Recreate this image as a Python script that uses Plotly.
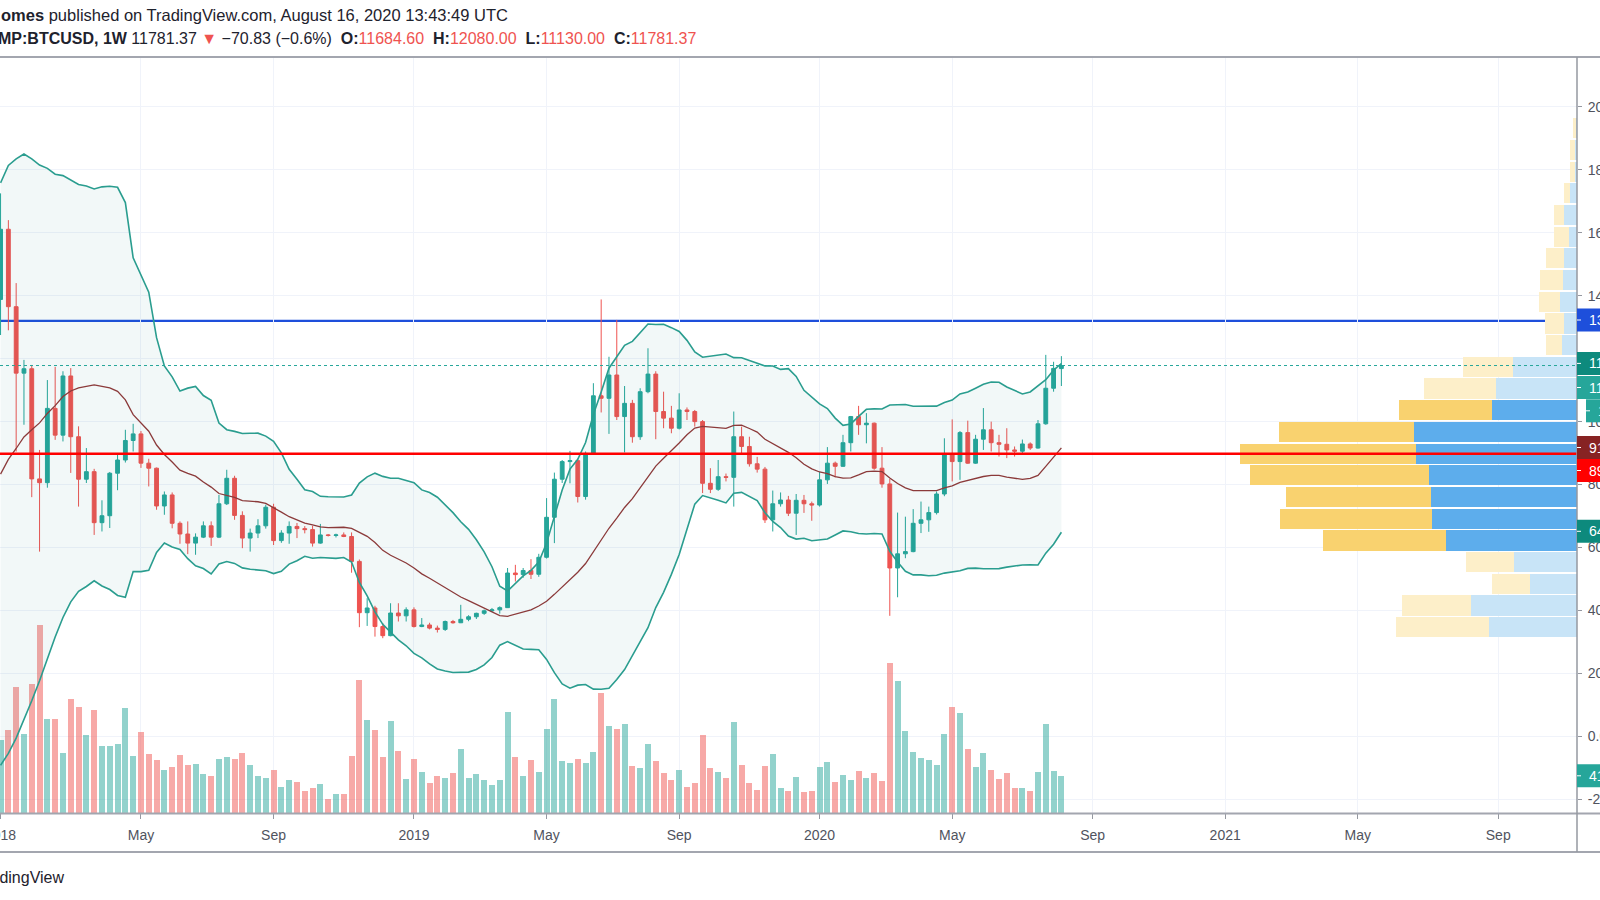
import numpy as np
import pandas as pd
import plotly.graph_objects as go

# ---------------- data ----------------
FIRST_WEEK = "2018-01-01"
N_WEEKS = 137

OPEN = [13880, 16110, 13650, 11540, 11680, 8180, 8060, 10420, 9570, 11450,
        9520, 8170, 8410, 6790, 7010, 8360, 8780, 9400, 9610, 8680,
        8520, 7320, 7670, 6770, 6430, 6140, 6330, 6690, 6330, 7390,
        8200, 7020, 6300, 6460, 6690, 7280, 6220, 6460, 6670, 6600,
        6570, 6140, 6400, 6385, 6400, 6350, 5560, 3930, 4080, 3490,
        3200, 3920, 3830, 4020, 3490, 3540, 3440, 3400, 3650, 3610,
        3720, 3800, 3910, 3990, 4020, 4090, 5190, 5140, 5270, 5150,
        5690, 6960, 8170, 8730, 8760, 7620, 8990, 10820, 10740, 11480,
        10160, 10580, 9520, 10950, 11510, 10320, 10110, 9790, 10370, 10320,
        10000, 8040, 7850, 8250, 8230, 9520, 9210, 8660, 8490, 6880,
        7390, 7510, 7090, 7500, 7390, 7350, 8150, 8680, 8580, 9330,
        10160, 9900, 9950, 8520, 8020, 5350, 5800, 5870, 6770, 6880,
        7110, 7700, 8940, 8730, 9650, 8680, 9440, 9740, 9330, 9280,
        9100, 9060, 9290, 9160, 9930, 11060, 11684.60]
HIGH = [17250, 16400, 14400, 11960, 11800, 9100, 11320, 11740, 11600, 11700,
        9850, 9160, 8500, 7500, 8400, 9000, 9740, 9930, 9700, 8820,
        8540, 7780, 7750, 6830, 6830, 6450, 6830, 6830, 7670, 8470,
        8280, 7150, 6600, 6900, 7360, 7390, 6550, 6830, 6780, 6680,
        6690, 6750, 6430, 6440, 6480, 6480, 5620, 4390, 4150, 3600,
        4230, 4230, 4100, 4100, 3760, 3610, 3520, 3680, 3700, 4180,
        3850, 3930, 4030, 4080, 4130, 5350, 5450, 5350, 5630, 5800,
        7570, 8380, 8780, 9070, 8800, 9050, 11220, 13880, 12060, 13230,
        11130, 10690, 11060, 12330, 11600, 10950, 10500, 10900, 10450, 10370,
        10050, 8520, 8780, 8350, 10320, 9840, 9520, 8880, 8560, 7810,
        7750, 7640, 7700, 7670, 7460, 8410, 9190, 8730, 9580, 10180,
        10500, 10270, 9970, 9190, 8180, 7110, 6980, 7220, 7460, 7300,
        7780, 9470, 10070, 9700, 10030, 9580, 10430, 10000, 9580, 9790,
        9210, 9430, 9340, 10050, 12120, 11900, 12080.00]
LOW = [12750, 12900, 9050, 9900, 7600, 5870, 7900, 9420, 9370, 8370,
       7300, 8050, 6400, 6510, 6620, 7820, 8700, 9050, 8530, 7940,
       7200, 7040, 6610, 6120, 5790, 5770, 6300, 6050, 6300, 7350,
       6880, 5980, 5870, 6300, 6600, 6080, 6150, 6120, 6300, 6450,
       6030, 6120, 6350, 6320, 6330, 5200, 3470, 3510, 3170, 3120,
       3180, 3650, 3650, 3460, 3470, 3400, 3300, 3350, 3580, 3600,
       3660, 3730, 3860, 3950, 3900, 4080, 4920, 5040, 5000, 5070,
       5650, 6140, 8050, 8040, 7430, 7520, 8950, 10290, 9610, 10050,
       9020, 9330, 9420, 10900, 9440, 9790, 9630, 9750, 10050, 9840,
       7730, 7730, 7800, 8100, 7300, 9000, 8570, 8380, 6780, 6510,
       7300, 7000, 6400, 7100, 6850, 7300, 8020, 8230, 8560, 9050,
       9580, 9310, 8470, 7900, 3830, 4420, 5660, 5850, 6460, 6500,
       7050, 7630, 8100, 8150, 8660, 8660, 9100, 9050, 8890, 8840,
       8890, 9000, 9100, 9140, 9900, 10950, 11130.00]
CLOSE = [16110, 13650, 11540, 11680, 8180, 8060, 10420, 9570, 11450, 9520,
         8170, 8410, 6790, 7010, 8360, 8780, 9400, 9610, 8680, 8520,
         7320, 7670, 6770, 6430, 6140, 6330, 6690, 6330, 7390, 8200,
         7020, 6300, 6460, 6690, 7280, 6220, 6460, 6670, 6600, 6570,
         6140, 6400, 6385, 6400, 6350, 5560, 3930, 4080, 3490, 3200,
         3920, 3830, 4020, 3490, 3540, 3440, 3400, 3650, 3610, 3720,
         3800, 3910, 3990, 4020, 4090, 5190, 5140, 5270, 5150, 5690,
         6960, 8170, 8730, 8760, 7620, 8990, 10820, 10740, 11480, 10160,
         10580, 9520, 10950, 11510, 10320, 10110, 9790, 10370, 10320, 10000,
         8040, 7850, 8250, 8230, 9520, 9210, 8660, 8490, 6880, 7390,
         7510, 7090, 7500, 7390, 7350, 8150, 8680, 8580, 9330, 10160,
         9900, 9950, 8520, 8020, 5350, 5800, 5870, 6770, 6880, 7110,
         7700, 8940, 8730, 9650, 8680, 9440, 9740, 9330, 9280, 9100,
         9060, 9290, 9160, 9930, 11060, 11690, 11781.37]
VOLUME_K = [81.5, 92.6, 140.2, 87.4, 143.2, 209.1, 104.5, 103.8, 66.6, 126.1,
            117.2, 86.3, 114.2, 74.8, 74.8, 76.3, 116.4, 63.2, 90.0, 65.8,
            59.1, 47.6, 51.3, 64.7, 53.6, 54.7, 42.8, 41.3, 59.9, 62.5,
            59.9, 66.6, 53.6, 41.3, 39.1, 47.6, 29.4, 36.5, 34.2, 24.9,
            27.9, 32.4, 16.0, 20.8, 21.6, 63.2, 147.7, 103.0, 92.6, 62.5,
            102.3, 68.4, 37.2, 59.9, 45.8, 33.5, 40.5, 39.1, 44.6, 70.7,
            39.1, 43.2, 36.8, 31.6, 36.5, 111.6, 62.5, 40.5, 58.8, 45.8,
            93.4, 126.1, 57.3, 55.8, 59.9, 55.8, 68.1, 132.8, 96.7, 93.0,
            98.2, 52.5, 49.5, 76.3, 57.3, 44.3, 36.8, 48.0, 29.0, 33.1,
            86.7, 49.5, 45.0, 38.3, 101.2, 53.6, 33.1, 25.7, 52.1, 65.5,
            27.5, 24.9, 39.8, 23.4, 24.9, 50.6, 56.5, 34.2, 42.4, 36.8,
            46.1, 38.3, 44.6, 35.7, 165.9, 146.9, 91.5, 68.1, 61.4, 58.8,
            52.8, 87.8, 117.9, 110.5, 71.4, 51.3, 66.6, 48.0, 37.6, 44.6,
            27.2, 27.9, 24.2, 45.4, 98.6, 46.1, 41.3]
# weekly closes Aug 21 - Dec 25 2017, only used to warm up the 20-week Bollinger Bands
PRIOR_CLOSES_2017 = [4350, 4580, 4320, 3680, 3670, 4400, 4600, 5700, 6000, 6150,
                     7400, 5900, 8000, 9300, 11000, 14800, 19000, 13900, 13800]
BB_LENGTH = 20
BB_MULT = 2.0

RESISTANCE_BLUE = 13200.00
SUPPORT_RED = 8980.00
EXTRA_LABEL = "10340.00"

# Volume profile (visible range): 24 rows
VP_LOW = 3122.0
VP_STEP = 689.3
VP_UP_K = [265, 318, 140, 190, 392, 436, 438, 445, 482, 488, 255, 242,
           193, 45, 40, 52, 42, 38, 25, 38, 20, 7, 5, 2]
VP_DOWN_K = [279, 206, 115, 142, 370, 454, 435, 537, 530, 407, 280, 216,
             149, 48, 55, 62, 70, 54, 43, 30, 20, 15, 15, 9]
VALUE_AREA_ROWS = (4, 10)

X_TICK_DATES = ["2018-01-01", "2018-05-07", "2018-09-03", "2019-01-07", "2019-05-06",
                "2019-09-02", "2020-01-06", "2020-05-04", "2020-09-07", "2021-01-04",
                "2021-05-03", "2021-09-06"]
X_TICK_TEXT = ["2018", "May", "Sep", "2019", "May", "Sep", "2020", "May", "Sep",
               "2021", "May", "Sep"]
Y_TICKS = list(range(-2000, 20001, 2000))

# ---------------- derived ----------------
dates = pd.date_range(FIRST_WEEK, periods=N_WEEKS, freq="7D")
all_close = pd.Series(PRIOR_CLOSES_2017 + CLOSE, dtype=float)
mid = all_close.rolling(BB_LENGTH).mean().iloc[-N_WEEKS:].to_numpy()
sd = all_close.rolling(BB_LENGTH).std(ddof=0).iloc[-N_WEEKS:].to_numpy()
upper = mid + BB_MULT * sd
lower = mid - BB_MULT * sd

UP_C = "#26A69A"
DN_C = "#EF5350"
vol_colors = ["rgba(38,166,154,0.5)" if c >= o else "rgba(239,83,80,0.5)"
              for o, c in zip(OPEN, CLOSE)]

FONT = "Liberation Sans, Arial, sans-serif"
W, H = 1600, 900
ML, MR, MT, MB = 0, 23, 57, 87
PLOT_H = H - MT - MB
PLOT_W = W - ML - MR


def yp(px):
    return (H - MB - px) / PLOT_H


def xp(px):
    return (px - ML) / PLOT_W


Y_TOP = 21582
Y_BOT = -2433
VOL_TOP = 838.6
X2_MAX = 4731

fig = go.Figure()

# volume (main subplot, hidden axis)
fig.add_trace(go.Bar(x=dates, y=VOLUME_K, marker=dict(color=vol_colors, line=dict(width=0)),
                     width=5.4 * 86400000, xaxis="x", yaxis="y", hoverinfo="skip"))

# Bollinger bands
BAND_C = "#2A9D8F"
fig.add_trace(go.Scatter(x=dates, y=upper, mode="lines", line=dict(color=BAND_C, width=1.6),
                         xaxis="x", yaxis="y2", hoverinfo="skip"))
fig.add_trace(go.Scatter(x=dates, y=lower, mode="lines", line=dict(color=BAND_C, width=1.6),
                         fill="tonexty", fillcolor="rgba(25,135,135,0.055)",
                         xaxis="x", yaxis="y2", hoverinfo="skip"))
fig.add_trace(go.Scatter(x=dates, y=mid, mode="lines", line=dict(color="#8B3A3A", width=1.3),
                         xaxis="x", yaxis="y2", hoverinfo="skip"))

# candles
fig.add_trace(go.Candlestick(x=dates, open=OPEN, high=HIGH, low=LOW, close=CLOSE,
                             increasing=dict(line=dict(color=UP_C, width=1), fillcolor=UP_C),
                             decreasing=dict(line=dict(color=DN_C, width=1), fillcolor=DN_C),
                             whiskerwidth=0, xaxis="x", yaxis="y2", hoverinfo="skip"))

# volume profile
centers = [VP_LOW + (r + 0.5) * VP_STEP for r in range(len(VP_UP_K))]
in_va = [VALUE_AREA_ROWS[0] <= r <= VALUE_AREA_ROWS[1] for r in range(len(VP_UP_K))]
up_cols = ["#5DADEC" if v else "#C8E4F7" for v in in_va]
dn_cols = ["#F9D26F" if v else "#FDEFC9" for v in in_va]
fig.add_trace(go.Bar(orientation="h", y=centers, x=VP_UP_K, width=VP_STEP * 0.93,
                     marker=dict(color=up_cols, line=dict(width=0)),
                     xaxis="x2", yaxis="y2", hoverinfo="skip"))
fig.add_trace(go.Bar(orientation="h", y=centers, x=VP_DOWN_K, base=VP_UP_K, width=VP_STEP * 0.93,
                     marker=dict(color=dn_cols, line=dict(width=0)),
                     xaxis="x2", yaxis="y2", hoverinfo="skip"))

shapes = []
# horizontal levels
shapes.append(dict(type="line", xref="paper", x0=0, x1=1, yref="y2", y0=RESISTANCE_BLUE,
                   y1=RESISTANCE_BLUE, line=dict(color="#1E4FDB", width=2.2), layer="below"))
shapes.append(dict(type="line", xref="paper", x0=0, x1=1, yref="y2", y0=SUPPORT_RED,
                   y1=SUPPORT_RED, line=dict(color="#FF0000", width=2.6), layer="above"))
shapes.append(dict(type="line", xref="paper", x0=0, x1=1, yref="y2", y0=CLOSE[-1],
                   y1=CLOSE[-1], line=dict(color=UP_C, width=1, dash="dot"), layer="above"))
# frame lines
GRAYL = "#A3A6AF"
shapes.append(dict(type="line", xref="paper", yref="paper", x0=xp(0), x1=xp(W), y0=yp(57), y1=yp(57),
                   line=dict(color=GRAYL, width=2)))
shapes.append(dict(type="line", xref="paper", yref="paper", x0=xp(0), x1=xp(W), y0=yp(813.5), y1=yp(813.5),
                   line=dict(color=GRAYL, width=2)))
shapes.append(dict(type="line", xref="paper", yref="paper", x0=xp(0), x1=xp(W), y0=yp(852), y1=yp(852),
                   line=dict(color=GRAYL, width=2)))
shapes.append(dict(type="line", xref="paper", yref="paper", x0=1, x1=1, y0=yp(852), y1=yp(57),
                   line=dict(color="#9598A1", width=1.5)))

annotations = []
# price-scale labels (boxes)
labels = [
    (320.0, "#1E4FDB", f"{RESISTANCE_BLUE:.2f}", 1577),
    (363.4, "#0D8A7D", f"{upper[-1]:.2f}", 1577),
    (387.5, UP_C, f"{CLOSE[-1]:.2f}", 1577),
    (410.8, UP_C, EXTRA_LABEL, 1586),
    (447.5, "#872323", f"{mid[-1]:.2f}", 1577),
    (470.5, "#FF0000", f"{SUPPORT_RED:.2f}", 1577),
    (531.3, "#0D8A7D", f"{lower[-1]:.2f}", 1577),
    (775.8, UP_C, f"{VOLUME_K[-1]:.1f}K", 1577),
]
for cy, col, txt, x0 in labels:
    shapes.append(dict(type="rect", xref="paper", yref="paper", x0=xp(x0), x1=xp(W + 10),
                       y0=yp(cy + 11.5), y1=yp(cy - 11.5), fillcolor=col,
                       line=dict(width=0), layer="above"))
    shapes.append(dict(type="line", xref="paper", yref="paper", x0=xp(x0), x1=xp(x0 + 4),
                       y0=yp(cy), y1=yp(cy), line=dict(color="white", width=1), layer="above"))
    annotations.append(dict(xref="paper", yref="paper", x=xp(x0 + 10), y=yp(cy), text=txt,
                            showarrow=False, xanchor="left", yanchor="middle",
                            font=dict(family=FONT, size=14, color="white")))

RED_T = "#EF5350"
annotations.append(dict(xref="paper", yref="paper", x=0, y=yp(15.5), xanchor="left", yanchor="middle",
                        showarrow=False, xshift=-1,
                        text="<b>omes</b> published on TradingView.com, August 16, 2020 13:43:49 UTC",
                        font=dict(family=FONT, size=16.5, color="#1E222D")))
SP = "\u00a0"
hdr2 = ("<b>MP:BTCUSD, 1W</b> 11781.37 <span style='color:%s'>▼</span> −70.83 (−0.6%%)" + SP + " "
        "<b>O:</b><span style='color:%s'>11684.60</span>" + SP + " <b>H:</b><span style='color:%s'>12080.00</span>" + SP + " "
        "<b>L:</b><span style='color:%s'>11130.00</span>" + SP + " <b>C:</b><span style='color:%s'>11781.37</span>")
hdr2 = hdr2 % (RED_T, RED_T, RED_T, RED_T, RED_T)
annotations.append(dict(xref="paper", yref="paper", x=0, y=yp(38), xanchor="left", yanchor="middle",
                        showarrow=False, xshift=-4, text=hdr2,
                        font=dict(family=FONT, size=16, color="#1E222D")))
annotations.append(dict(xref="paper", yref="paper", x=xp(66), y=yp(877), xanchor="right", yanchor="middle",
                        showarrow=False, text="TradingView",
                        font=dict(family=FONT, size=16, color="#1E222D")))

fig.update_layout(
    width=W, height=H,
    margin=dict(l=ML, r=MR, t=MT, b=MB, autoexpand=False),
    paper_bgcolor="white", plot_bgcolor="white",
    showlegend=False, barmode="overlay", boxgap=0.3, bargap=0,
    font=dict(family=FONT, size=14, color="#50535E"),
    xaxis=dict(type="date", range=["2017-12-31 12:00", "2021-11-15 17:00"],
               tickvals=X_TICK_DATES, ticktext=X_TICK_TEXT, showgrid=True, gridcolor="#F0F3FA",
               gridwidth=1, ticks="outside", ticklen=5, tickcolor="#9598A1",
               tickfont=dict(family=FONT, size=14, color="#50535E"), ticklabelstandoff=4,
               ticklabeloverflow="allow",
               zeroline=False, showline=False, rangeslider=dict(visible=False), fixedrange=True,
               automargin=False),
    xaxis2=dict(overlaying="x", range=[X2_MAX, 0], visible=False, fixedrange=True, automargin=False),
    yaxis=dict(range=[0, VOL_TOP], visible=False, fixedrange=True, showgrid=False, automargin=False),
    yaxis2=dict(overlaying="y", side="right", range=[Y_BOT, Y_TOP], tickvals=Y_TICKS,
                ticktext=[f"{v:.2f}" for v in Y_TICKS], showgrid=True, gridcolor="#F0F3FA",
                ticks="outside", ticklen=4, tickcolor="#9598A1", zeroline=False, showline=False,
                tickfont=dict(family=FONT, size=14, color="#50535E"), ticklabelstandoff=3,
                ticklabeloverflow="allow", fixedrange=True, automargin=False),
    shapes=shapes, annotations=annotations,
)

fig.write_html("out.html", include_plotlyjs=True, config={"displayModeBar": False})
